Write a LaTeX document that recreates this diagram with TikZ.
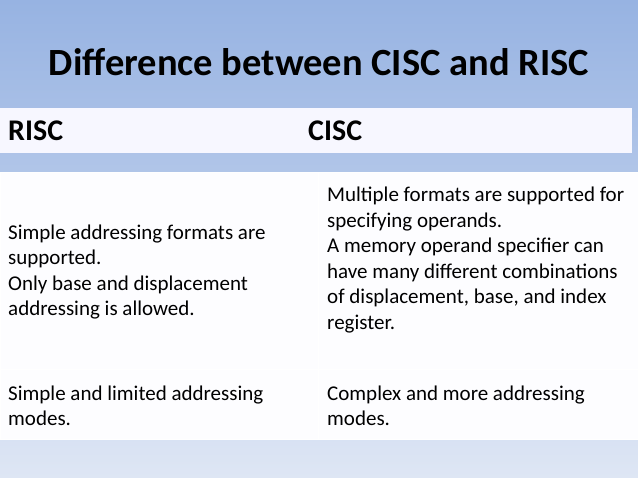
\documentclass[tikz,border=0pt]{standalone}
\usepackage{fontspec}
\setmainfont{Carlito}
\begin{document}
\begin{tikzpicture}[x=1pt,y=-1pt,
  cell/.style={fill=white!75!blue!3, draw=white, line width=1pt},
  txt/.style={anchor=west, align=left, font=\fontsize{21}{25.5}\selectfont, inner sep=0pt}]
\shade[top color={rgb,255:red,151;green,179;blue,226}, bottom color={rgb,255:red,222;green,230;blue,244}] (0,0) rectangle (638,478);
\useasboundingbox (0,0) rectangle (638,478);
\node[font=\bfseries\fontsize{38.5}{44}\selectfont] (title) at (319,62) {Difference between CISC and RISC};
\fill[white!97!blue] (0,108) rectangle (632,153);
\node[anchor=west, font=\bfseries\fontsize{30}{34}\selectfont, inner sep=0pt] (h1) at (8,131) {RISC};
\node[anchor=west, font=\bfseries\fontsize{30}{34}\selectfont, inner sep=0pt] (h2) at (308,131) {CISC};
\path[cell] (0,173) rectangle (318,370);
\path[cell] (318,173) rectangle (638,370);
\path[cell] (0,370) rectangle (318,440);
\path[cell] (318,370) rectangle (638,440);
\node[txt] (a1) at (8,272) {Simple addressing formats are\\supported.\\Only base and displacement\\addressing is allowed.};
\node[txt] (b1) at (327,260) {Multiple formats are supported for\\specifying operands.\\A memory operand specifier can\\have many different combinations\\of displacement, base, and index\\register.};
\node[txt] (a2) at (8,406) {Simple and limited addressing\\modes.};
\node[txt] (b2) at (327,406) {Complex and more addressing\\modes.};
\end{tikzpicture}
\end{document}
